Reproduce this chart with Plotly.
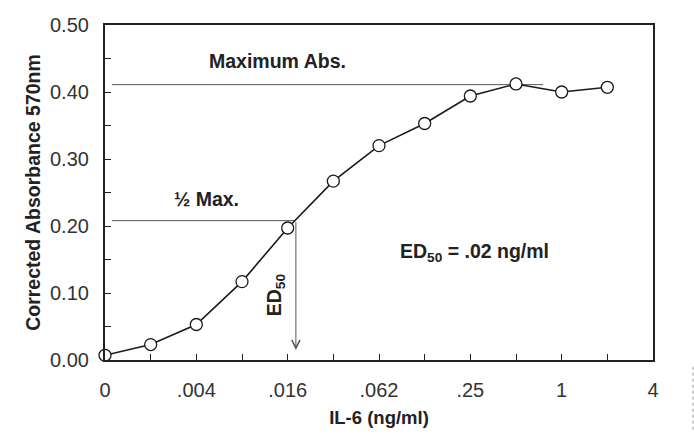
import plotly.graph_objects as go

# ---- data ----
dose_index = [0, 1, 2, 3, 4, 5, 6, 7, 8, 9, 10, 11]
absorbance = [0.007, 0.023, 0.053, 0.117, 0.197, 0.267, 0.320, 0.353, 0.394, 0.412, 0.400, 0.407]
x_tickvals = [0, 1, 2, 3, 4, 5, 6, 7, 8, 9, 10, 11, 12]
x_ticktext = ["0", "", ".004", "", ".016", "", ".062", "", ".25", "", "1", "", "4"]
y_tickvals = [0, 0.05, 0.10, 0.15, 0.20, 0.25, 0.30, 0.35, 0.40, 0.45, 0.50]
y_ticktext = ["0.00", "", "0.10", "", "0.20", "", "0.30", "", "0.40", "", "0.50"]
max_abs = 0.411
half_max = 0.208
ed50_index = 4.18
ref_line_start = 0.15
max_line_end = 9.59
arrow_tip = 0.015

BOLD = "Liberation Sans, Arial, sans-serif"
REG = "Liberation Sans, Arial, sans-serif"
AX = "#222222"
REF = "#555555"

fig = go.Figure()

# reference lines (maximum and half maximum)
fig.add_trace(go.Scatter(x=[ref_line_start, max_line_end], y=[max_abs, max_abs], mode="lines",
                         line=dict(color=REF, width=1), hoverinfo="skip", showlegend=False))
fig.add_trace(go.Scatter(x=[ref_line_start, ed50_index], y=[half_max, half_max], mode="lines",
                         line=dict(color=REF, width=1), hoverinfo="skip", showlegend=False))

# data curve
fig.add_trace(go.Scatter(x=dose_index, y=absorbance, mode="lines+markers",
                         line=dict(color="#1a1a1a", width=1.6),
                         marker=dict(size=12, color="white", line=dict(color="#1a1a1a", width=1.3)),
                         cliponaxis=False, showlegend=False))

annotations = [
    dict(x=ed50_index, y=arrow_tip, ax=ed50_index, ay=half_max, xref="x", yref="y",
         axref="x", ayref="y", text="", showarrow=True, arrowhead=5, arrowsize=1.6,
         arrowwidth=1, arrowcolor=REF),
    dict(x=2.23, y=0.446, xref="x", yref="y", text="<b>Maximum Abs.</b>", showarrow=False,
         xanchor="left", yanchor="middle", font=dict(family=BOLD, size=19.5, color=AX)),
    dict(x=1.47, y=0.240, xref="x", yref="y", text="<b>½ Max.</b>", showarrow=False,
         xanchor="left", yanchor="middle", font=dict(family=BOLD, size=19.5, color=AX)),
    dict(x=6.42, y=0.160, xref="x", yref="y", text="<b>ED<sub>50</sub> = .02 ng/ml</b>",
         showarrow=False, xanchor="left", yanchor="middle",
         font=dict(family=BOLD, size=19.5, color=AX)),
    dict(x=3.72, y=0.098, xref="x", yref="y", text="<b>ED<sub>50</sub></b>", showarrow=False,
         textangle=-90, xanchor="center", yanchor="middle",
         font=dict(family=BOLD, size=19.5, color=AX)),
]

fig.update_layout(
    width=694, height=437,
    margin=dict(l=105, r=41, t=25, b=71),
    paper_bgcolor="white", plot_bgcolor="white",
    annotations=annotations,
    shapes=[dict(type="line", xref="paper", yref="paper", x0=1.073, x1=1.073, y0=-0.02, y1=-0.21,
                 line=dict(color="#999999", width=1, dash="dot"))],
)

fig.update_xaxes(
    range=[0, 12], tickmode="array", tickvals=x_tickvals, ticktext=x_ticktext,
    ticks="inside", ticklen=6, tickwidth=1.3, tickcolor=AX,
    showline=True, linecolor=AX, linewidth=2.2, mirror=True, showgrid=False, zeroline=False,
    tickfont=dict(family=REG, size=20, color="#333333"), ticklabelstandoff=11,
    title=dict(text="<b>IL-6 (ng/ml)</b>", font=dict(family=BOLD, size=18.5, color=AX), standoff=11),
)
fig.update_yaxes(
    range=[0, 0.5], tickmode="array", tickvals=y_tickvals, ticktext=y_ticktext,
    ticks="inside", ticklen=6, tickwidth=1.3, tickcolor=AX,
    showline=True, linecolor=AX, linewidth=2.2, mirror=True, showgrid=False, zeroline=False,
    tickfont=dict(family=REG, size=20, color="#333333"), ticklabelstandoff=10,
    title=dict(text="<b>Corrected Absorbance 570nm</b>", font=dict(family=BOLD, size=19.5, color=AX),
               standoff=4),
)

fig.write_html("out.html")
